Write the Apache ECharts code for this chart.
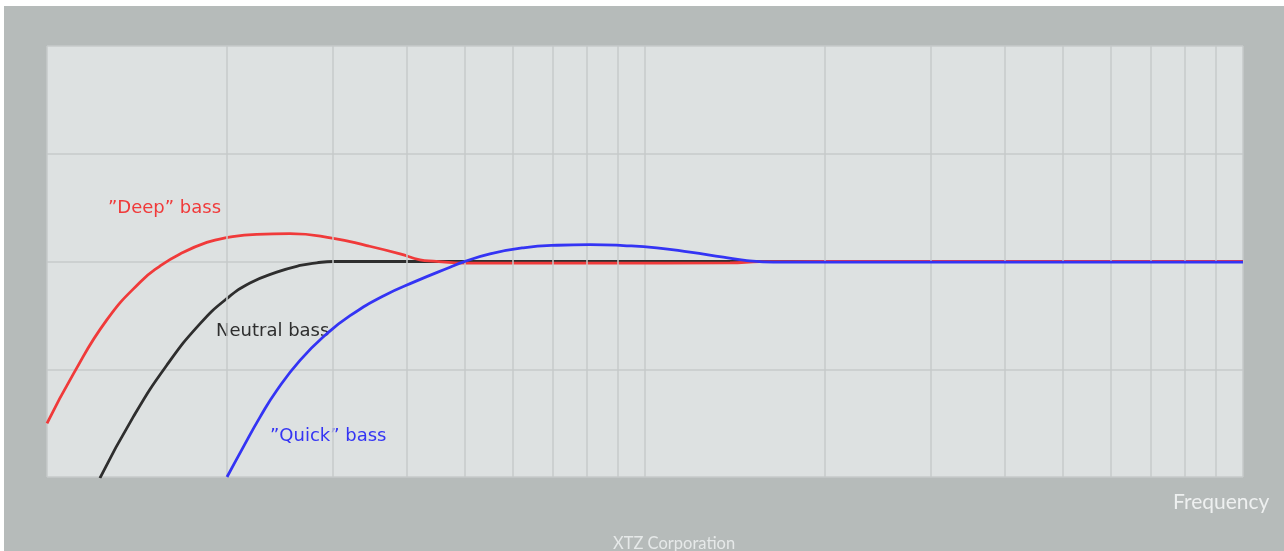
<!DOCTYPE html>
<html>
<head>
<meta charset="utf-8">
<script src="https://cdn.jsdelivr.net/npm/echarts@6/dist/echarts.min.js"></script>
<style>
html,body{margin:0;padding:0;background:#ffffff;}
#c{position:absolute;left:4px;top:6px;width:1280px;height:545px;}
</style>
</head>
<body>
<div id="c"></div>
<script>
// Frequency (Hz, log) vs level (dB)
const gridFreqs = [20,30,40,50,60,70,80,90,200,300,400,500,600,700,800,900];
const deepFreq  = [10, 11.07, 12.59, 14.31, 15.45, 16.69, 18.50, 19.98, 22.42, 25.49, 30.12, 34.24, 38.94, 42.05, 44.26, 50.32, 84.1, 138.7, 156, 200, 400, 1000];
const deepLevel = [-15.03, -10.43, -5.42, -1.92, -0.42, 0.70, 1.77, 2.21, 2.52, 2.58, 2.15, 1.48, 0.71, 0.16, 0.03, -0.15, -0.16, -0.12, -0.02, 0, 0, 0];
const neutralFreq  = [12.26, 13.94, 15.86, 18.03, 19.98, 21.85, 24.22, 26.49, 28.25, 30.12, 36, 50, 100, 300, 1000];
const neutralLevel = [-20.1, -14.42, -9.63, -5.77, -3.45, -2.0, -0.99, -0.37, -0.12, 0, 0, 0, 0, 0, 0];
const quickFreq  = [20.0, 21.30, 22.71, 24.22, 26.49, 29.36, 32.12, 36.51, 41.51, 47.20, 49.6, 55.06, 62.59, 71.17, 80.91, 91.99, 104.6, 118.9, 135.2, 148.0, 163.9, 200, 400, 1000];
const quickLevel = [-20.0, -17.20, -14.44, -11.97, -9.17, -6.71, -5.03, -3.20, -1.80, -0.53, -0.06, 0.71, 1.27, 1.51, 1.57, 1.48, 1.27, 0.86, 0.40, 0.09, -0.06, -0.06, -0.06, -0.06];
const yTicks = [-20, -10, 0, 10, 20];

const zip = (a, b) => a.map((v, i) => [v, b[i]]);
const chart = echarts.init(document.getElementById('c'));
const gridLineColor = '#c6caca';
const labelFont = '18px "DejaVu Sans", Verdana, sans-serif';
chart.setOption({
  backgroundColor: '#b6bbba',
  animation: false,
  grid: {left: 43, top: 40, right: 41, bottom: 74, show: true, backgroundColor: '#dde1e1', borderWidth: 0},
  xAxis: {
    type: 'log', logBase: 10, min: 10, max: 1000,
    axisLine: {show: false}, axisTick: {show: false}, axisLabel: {show: false},
    splitLine: {show: true, lineStyle: {color: gridLineColor, width: 1.5}}
  },
  yAxis: {
    type: 'value', min: yTicks[0], max: yTicks[yTicks.length - 1], interval: 10,
    axisLine: {show: false}, axisTick: {show: false}, axisLabel: {show: false},
    splitLine: {show: true, lineStyle: {color: gridLineColor, width: 1.5}}
  },
  series: [
    {
      type: 'line', data: [], silent: true,
      markLine: {
        silent: true, symbol: 'none', animation: false,
        label: {show: false},
        lineStyle: {color: gridLineColor, width: 1.5, type: 'solid'},
        data: gridFreqs.map(f => ({xAxis: f}))
      }
    },
    {name: 'Neutral', type: 'line', data: zip(neutralFreq, neutralLevel), smooth: 0.5, showSymbol: false,
     lineStyle: {color: '#2e2e2e', width: 2.8}, z: 3},
    {name: 'Deep', type: 'line', data: zip(deepFreq, deepLevel), smooth: 0.5, showSymbol: false,
     lineStyle: {color: '#f03a3a', width: 2.8}, z: 4},
    {name: 'Quick', type: 'line', data: zip(quickFreq, quickLevel), smooth: 0.5, showSymbol: false,
     lineStyle: {color: '#3434f4', width: 2.8}, z: 5}
  ],
  graphic: [
    {type: 'text', left: 104, top: 193, style: {text: '\u201dDeep\u201d bass', fill: '#f03a3a', font: labelFont}},
    {type: 'text', left: 212, top: 316, style: {text: 'Neutral bass', fill: '#2e2e2e', font: labelFont}},
    {type: 'text', left: 266, top: 421, style: {text: '\u201dQuick\u201d bass', fill: '#3434f4', font: labelFont}},
    {type: 'text', left: 1169, top: 486, style: {text: 'Frequency', fill: '#eef0f0', font: '21px Lato, "Open Sans", sans-serif'}},
    {type: 'text', left: 609, top: 529, style: {text: 'XTZ Corporation', fill: '#e6e9e9', font: '16.5px Lato, "Open Sans", sans-serif'}}
  ]
});
</script>
</body>
</html>
